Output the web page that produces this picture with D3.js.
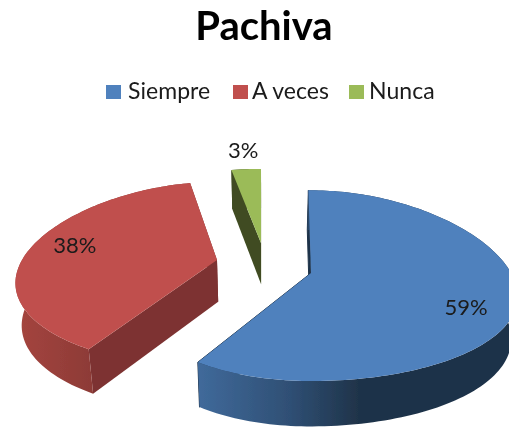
<!DOCTYPE html>
<html><head><meta charset="utf-8">
<script src="https://cdn.jsdelivr.net/npm/d3@7"></script>
<style>html,body{margin:0;padding:0;background:#fff}svg{display:block}text{font-family:Lato,"Noto Sans",sans-serif;fill:#1a1a1a}</style>
</head><body><script>
const title = "Pachiva";
const categories = ["Siempre", "A veces", "Nunca"];
const values = [59, 38, 3];
const labels = ["59%", "38%", "3%"];

const W = 509, H = 430;
const topColors = ["#4f81bd", "#c0504d", "#9bbb59"];
const cutColors = ["#1f3349", "#7d3331", "#3f4c21"];
const apexX = [311, 217, 261], apexY = [273, 260, 243];
const rxLeft = [172, 195, 215], rxRight = [200, 200, 200], backScale = [1.06, 1, 0.95];
const labelRadius = [0.76, 0.76, 1.2], labelShiftX = [-2, -4, 0], labelShiftY = [13, -3, -5];
const startNudge = [-1.2 * Math.PI / 180, 0, 0];
const legendSwatchX = [106, 233, 349], legendTextX = [128, 252, 369];

const svg = d3.select("body").append("svg").attr("width", W).attr("height", H);
const defs = svg.append("defs");
defs.append("filter").attr("id", "soft").append("feGaussianBlur").attr("stdDeviation", 0.5);

function gradient(id, x1, x2, stops) {
  const g = defs.append("linearGradient").attr("id", id).attr("gradientUnits", "userSpaceOnUse")
    .attr("x1", x1).attr("x2", x2).attr("y1", 0).attr("y2", 0);
  stops.forEach(([o, c]) => g.append("stop").attr("offset", o).attr("stop-color", c));
}
gradient("wall0", 197, 509, [[0, "#406a9b"], [0.3, "#2f4f74"], [0.52, "#1f3349"], [1, "#1f3349"]]);
gradient("wall1", 16, 95, [[0, "#a5453f"], [1, "#8c3a36"]]);
gradient("wall2", 230, 262, [[0, "#3f4c21"], [1, "#3f4c21"]]);

const root = svg.append("g").attr("filter", "url(#soft)");

root.append("text").attr("x", 264).attr("y", 40).attr("text-anchor", "middle")
  .attr("font-size", 40).attr("font-weight", 700).style("fill", "#000").text(title);

const legend = root.selectAll("g.leg").data(categories).join("g").attr("class", "leg");
legend.append("rect").attr("x", (d, i) => legendSwatchX[i]).attr("y", 85).attr("width", 15).attr("height", 14)
  .attr("fill", (d, i) => topColors[i]);
legend.append("text").attr("x", (d, i) => legendTextX[i]).attr("y", 99)
  .attr("font-size", 23).style("letter-spacing", "0.05px").text(d => d);

// 3D pie: each exploded slice is projected in perspective around its own apex
const pie = d3.pie().sort(null).startAngle(0).endAngle(2 * Math.PI);
const arcs = pie(values);
const ryMid = 93, ryPersp = 15, xPersp = 0.27;
const vx = 265;

function rim(i, a, f = 1) {
  const s = Math.sin(a), c = Math.cos(a);
  const rx = s < 0 ? rxLeft[i] : rxRight[i];
  const back = c > 0 ? backScale[i] : 1;
  return [apexX[i] + f * rx * s * (1 - xPersp * c), apexY[i] - f * c * back * (ryMid - ryPersp * c)];
}
const lower = ([x, y]) => [vx + (x - vx) * 0.975, y + 34 + 0.03 * y];
const line = d3.line();

function sliceRim(i, d) {
  const a0 = d.startAngle + startNudge[i];
  const n = Math.max(4, Math.round((d.endAngle - a0) * 40));
  return d3.range(n + 1).map(k => rim(i, a0 + (d.endAngle - a0) * k / n));
}

[2, 1, 0].forEach(i => {
  const d = arcs[i];
  const pts = sliceRim(i, d);
  const apex = [apexX[i], apexY[i]];
  const g = root.append("g");
  // cut faces
  [pts[0], pts[pts.length - 1]].forEach(p => {
    g.append("path").attr("d", line([apex, p, lower(p), lower(apex)]) + "Z")
      .attr("fill", cutColors[i]).attr("stroke", cutColors[i]).attr("stroke-width", i === 0 ? 1 : 0);
  });
  // outer wall
  g.append("path").attr("d", line(pts.concat(pts.map(lower).reverse())) + "Z")
    .attr("fill", `url(#wall${i})`);
  // top surface
  g.append("path").attr("d", line([apex].concat(pts)) + "Z").attr("fill", topColors[i]);
});

root.selectAll("text.lab").data(arcs).join("text").attr("class", "lab")
  .attr("text-anchor", "middle").attr("font-size", 22).attr("dominant-baseline", "central")
  .each(function (d, i) {
    const m = (d.startAngle + d.endAngle) / 2;
    const p = rim(i, m, labelRadius[i]);
    d3.select(this).attr("x", p[0] + labelShiftX[i]).attr("y", p[1] + labelShiftY[i]);
  })
  .text((d, i) => labels[i]);
</script></body></html>
